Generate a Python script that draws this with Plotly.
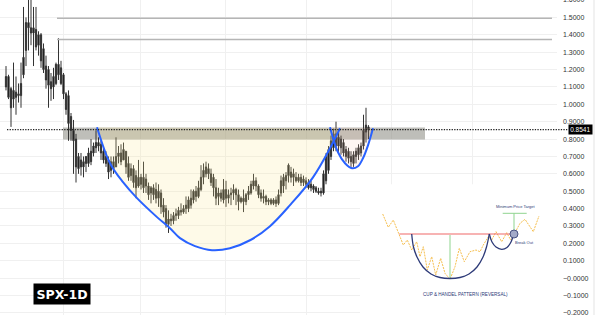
import plotly.graph_objects as go

# ---------------- data (price, SPX daily candles) ----------------
opens = [1.10, 1.16, 1.09, 1.03, 1.07, 1.05, 1.05, 1.17, 1.31, 1.47,
         1.44, 1.41, 1.43, 1.34, 1.40, 1.32, 1.22, 1.20, 1.13, 1.10,
         1.12, 1.23, 1.21, 1.17, 1.06, 1.05, 0.93, 0.85, 0.80, 0.63,
         0.68, 0.64, 0.66, 0.66, 0.67, 0.72, 0.75, 0.78, 0.77, 0.73,
         0.70, 0.68, 0.62, 0.67, 0.64, 0.70, 0.72, 0.68, 0.73, 0.66,
         0.59, 0.63, 0.59, 0.53, 0.58, 0.52, 0.57, 0.53, 0.49, 0.52,
         0.51, 0.46, 0.49, 0.42, 0.40, 0.31, 0.34, 0.33, 0.36, 0.36,
         0.39, 0.38, 0.40, 0.40, 0.42, 0.45, 0.50, 0.47, 0.51, 0.58,
         0.60, 0.63, 0.60, 0.58, 0.52, 0.47, 0.49, 0.45, 0.51, 0.46,
         0.48, 0.49, 0.51, 0.48, 0.44, 0.46, 0.44, 0.48, 0.49, 0.53,
         0.56, 0.53, 0.49, 0.46, 0.47, 0.44, 0.45, 0.43, 0.45, 0.43,
         0.49, 0.53, 0.56, 0.59, 0.61, 0.58, 0.58, 0.56, 0.58, 0.55,
         0.56, 0.55, 0.54, 0.53, 0.52, 0.50, 0.49, 0.49, 0.56, 0.62,
         0.70, 0.75, 0.83, 0.76, 0.80, 0.78, 0.74, 0.73, 0.70, 0.66,
         0.70, 0.71, 0.72, 0.76, 0.84, 0.87]
highs = [1.22, 1.17, 1.10, 1.24, 1.16, 1.12, 1.24, 1.56, 1.50, 1.62,
         1.62, 1.56, 1.56, 1.42, 1.41, 1.35, 1.28, 1.22, 1.18, 1.21,
         1.24, 1.38, 1.25, 1.18, 1.07, 1.08, 0.95, 0.91, 0.83, 0.72,
         0.72, 0.70, 0.70, 0.75, 0.80, 0.78, 0.85, 0.81, 0.79, 0.75,
         0.73, 0.70, 0.70, 0.70, 0.81, 0.76, 0.77, 0.78, 0.73, 0.70,
         0.66, 0.65, 0.62, 0.68, 0.60, 0.67, 0.60, 0.55, 0.53, 0.54,
         0.55, 0.54, 0.51, 0.46, 0.42, 0.39, 0.37, 0.38, 0.40, 0.41,
         0.43, 0.42, 0.47, 0.47, 0.51, 0.51, 0.53, 0.56, 0.65, 0.66,
         0.67, 0.66, 0.63, 0.60, 0.57, 0.52, 0.51, 0.57, 0.56, 0.51,
         0.52, 0.54, 0.52, 0.51, 0.47, 0.51, 0.49, 0.53, 0.56, 0.60,
         0.58, 0.54, 0.51, 0.51, 0.48, 0.46, 0.46, 0.46, 0.47, 0.51,
         0.59, 0.60, 0.61, 0.66, 0.64, 0.63, 0.61, 0.60, 0.60, 0.59,
         0.58, 0.57, 0.56, 0.54, 0.53, 0.52, 0.52, 0.62, 0.72, 0.76,
         0.82, 0.86, 0.90, 0.84, 0.82, 0.80, 0.76, 0.75, 0.73, 0.73,
         0.75, 0.77, 0.78, 0.94, 0.98, 0.88]
lows = [1.08, 1.03, 0.87, 0.98, 0.94, 1.01, 0.98, 1.15, 1.22, 1.31,
        1.34, 1.22, 1.31, 1.28, 1.21, 1.18, 1.09, 0.98, 1.02, 1.03,
        1.11, 1.14, 1.11, 1.03, 0.94, 0.79, 0.79, 0.60, 0.55, 0.60,
        0.59, 0.58, 0.61, 0.64, 0.65, 0.70, 0.72, 0.73, 0.68, 0.66,
        0.64, 0.57, 0.58, 0.60, 0.64, 0.66, 0.65, 0.68, 0.60, 0.56,
        0.56, 0.52, 0.46, 0.52, 0.51, 0.49, 0.49, 0.45, 0.43, 0.45,
        0.43, 0.41, 0.37, 0.35, 0.29, 0.26, 0.30, 0.31, 0.33, 0.34,
        0.36, 0.37, 0.37, 0.38, 0.40, 0.43, 0.44, 0.46, 0.50, 0.54,
        0.58, 0.57, 0.53, 0.47, 0.42, 0.42, 0.44, 0.43, 0.41, 0.43,
        0.42, 0.45, 0.42, 0.39, 0.43, 0.38, 0.42, 0.45, 0.48, 0.51,
        0.50, 0.46, 0.44, 0.43, 0.42, 0.42, 0.42, 0.42, 0.41, 0.42,
        0.47, 0.49, 0.51, 0.55, 0.55, 0.53, 0.55, 0.55, 0.53, 0.53,
        0.52, 0.51, 0.50, 0.49, 0.49, 0.48, 0.47, 0.48, 0.54, 0.60,
        0.68, 0.73, 0.73, 0.72, 0.71, 0.70, 0.67, 0.66, 0.64, 0.64,
        0.66, 0.68, 0.70, 0.74, 0.78, 0.80]
closes = [1.16, 1.04, 0.98, 1.08, 1.04, 1.06, 1.12, 1.27, 1.47, 1.44,
          1.41, 1.44, 1.33, 1.40, 1.25, 1.20, 1.14, 1.11, 1.09, 1.16,
          1.23, 1.17, 1.12, 1.06, 0.97, 0.89, 0.85, 0.79, 0.64, 0.70,
          0.64, 0.67, 0.70, 0.72, 0.73, 0.76, 0.78, 0.76, 0.72, 0.68,
          0.66, 0.61, 0.67, 0.63, 0.70, 0.72, 0.67, 0.74, 0.64, 0.58,
          0.63, 0.55, 0.52, 0.58, 0.54, 0.58, 0.53, 0.48, 0.52, 0.48,
          0.46, 0.50, 0.41, 0.38, 0.31, 0.34, 0.33, 0.36, 0.37, 0.39,
          0.38, 0.40, 0.42, 0.45, 0.46, 0.50, 0.47, 0.52, 0.58, 0.62,
          0.64, 0.60, 0.55, 0.52, 0.46, 0.49, 0.46, 0.51, 0.46, 0.48,
          0.49, 0.51, 0.48, 0.44, 0.46, 0.44, 0.48, 0.50, 0.54, 0.56,
          0.53, 0.48, 0.46, 0.47, 0.44, 0.45, 0.43, 0.45, 0.43, 0.48,
          0.56, 0.58, 0.59, 0.65, 0.58, 0.60, 0.56, 0.58, 0.55, 0.57,
          0.54, 0.52, 0.52, 0.51, 0.50, 0.49, 0.50, 0.60, 0.70, 0.74,
          0.79, 0.83, 0.76, 0.81, 0.75, 0.72, 0.70, 0.69, 0.67, 0.71,
          0.73, 0.75, 0.76, 0.85, 0.88, 0.8541]
days = list(range(len(closes)))

last_price = 0.8541
last_price_label = "0.8541"
resistance_levels = [1.495, 1.373]
resistance_span = [20.4, 218.4]
band_low, band_high = 0.797, 0.867
band_span = [22.8, 167.6]
month_lines = [22.8, 53.6, 87.6, 120.0, 154.0, 186.4]

cup_x = [36.4, 41.6, 46.8, 52.4, 60.4, 65.6, 69.6, 75.6, 82.4, 89.6,
         97.6, 105.6, 113.6, 122.8, 129.6, 133.6]
cup_y = [0.868, 0.661, 0.552, 0.460, 0.351, 0.287, 0.230, 0.184, 0.161, 0.172,
         0.218, 0.299, 0.420, 0.580, 0.747, 0.862]
handle_x = [129.6, 132.8, 135.6, 138.4, 140.8, 142.8, 144.8, 146.8]
handle_y = [0.868, 0.724, 0.661, 0.632, 0.644, 0.690, 0.764, 0.862]

tick_values = [-0.2, -0.1, 0.0, 0.1, 0.2, 0.3, 0.4, 0.5, 0.6, 0.7,
               0.8, 0.9, 1.0, 1.1, 1.2, 1.3, 1.4, 1.5, 1.6]
tick_labels = ["\u22120.2000", "\u22120.1000", "\u22120.0000", "0.1000", "0.2000",
               "0.3000", "0.4000", "0.5000", "0.6000", "0.7000", "0.8000",
               "0.9000", "1.0000", "1.1000", "1.2000", "1.3000", "1.4000",
               "1.5000", "1.6000"]
chart_label = "SPX-1D"

# ---------------- inset illustration (local units) ----------------
zig_x = [22.7, 28.3, 33.3, 43.3, 47.3, 51.7, 56.7, 60, 63.3, 67.3, 71.7, 75.7,
         80.7, 85, 90, 95, 99.3, 104.3, 110, 116, 120, 123.3, 128.3, 131.7,
         136, 141.7, 146.7, 150.7, 155, 160, 165, 173.3, 179]
zig_y = [29, 42.3, 35, 60, 55, 65, 56.7, 71.7, 61.7, 85, 71.7, 90,
         73.3, 88.3, 94.3, 81.7, 63.3, 76.7, 66.7, 65, 66.7, 60, 51.7, 55,
         46.7, 56.7, 47.7, 55, 47.7, 38.3, 34.3, 46.7, 31]
neck_x = [39.3, 153.3]
neck_y = [49, 49]
icup_x = [51.7, 53.5, 57, 63, 71, 80, 90, 100, 109, 117, 123, 126.5, 129.3]
icup_y = [49, 62, 72, 82, 89, 92.5, 93.5, 92.5, 89, 82, 72, 62, 49]
ihandle_x = [129.3, 132, 136, 141.7, 147, 151, 153.3]
ihandle_y = [49, 57, 62, 64.3, 62.5, 57, 50]
depth_x = [90, 90]
depth_y = [50, 93.3]
target_x = [154, 154, None, 142.7, 166.7]
target_y = [48.3, 28.3, None, 28.3, 28.3]
breakout_xy = (154, 49)

BLUE = "#2962ff"
NAVY = "#2d3a78"

fig = go.Figure()

# cup & handle fills
fig.add_trace(go.Scatter(x=cup_x, y=cup_y, mode="lines", fill="toself",
                         fillcolor="rgba(250,232,140,0.20)",
                         line=dict(width=0, shape="spline"), hoverinfo="skip"))
fig.add_trace(go.Scatter(x=handle_x, y=handle_y, mode="lines", fill="toself",
                         fillcolor="rgba(245,190,160,0.14)",
                         line=dict(width=0, shape="spline"), hoverinfo="skip"))

fig.add_trace(go.Candlestick(
    x=days, open=opens, high=highs, low=lows, close=closes,
    increasing=dict(line=dict(color="#333333", width=1), fillcolor="#0a0a0a"),
    decreasing=dict(line=dict(color="#333333", width=1), fillcolor="#0a0a0a"),
    whiskerwidth=0, hoverinfo="skip"))

fig.add_trace(go.Scatter(x=cup_x, y=cup_y, mode="lines",
                         line=dict(color=BLUE, width=2, shape="spline"), hoverinfo="skip"))
fig.add_trace(go.Scatter(x=handle_x, y=handle_y, mode="lines",
                         line=dict(color=BLUE, width=2, shape="spline"), hoverinfo="skip"))

# inset traces
fig.add_trace(go.Scatter(x=zig_x, y=zig_y, xaxis="x2", yaxis="y2", mode="lines",
                         line=dict(color="#f6bf4f", width=1, dash="2px,1px"), hoverinfo="skip"))
fig.add_trace(go.Scatter(x=neck_x, y=neck_y, xaxis="x2", yaxis="y2", mode="lines",
                         line=dict(color="#f06868", width=1.2), hoverinfo="skip"))
fig.add_trace(go.Scatter(x=depth_x, y=depth_y, xaxis="x2", yaxis="y2", mode="lines",
                         line=dict(color="#8fd48f", width=1), hoverinfo="skip"))
fig.add_trace(go.Scatter(x=target_x, y=target_y, xaxis="x2", yaxis="y2", mode="lines",
                         line=dict(color="#8fd48f", width=1), hoverinfo="skip"))
fig.add_trace(go.Scatter(x=icup_x, y=icup_y, xaxis="x2", yaxis="y2", mode="lines",
                         line=dict(color=NAVY, width=1.3, shape="spline"), hoverinfo="skip"))
fig.add_trace(go.Scatter(x=ihandle_x, y=ihandle_y, xaxis="x2", yaxis="y2", mode="lines",
                         line=dict(color=NAVY, width=1.3, shape="spline"), hoverinfo="skip"))
fig.add_trace(go.Scatter(x=[breakout_xy[0]], y=[breakout_xy[1]], xaxis="x2", yaxis="y2",
                         mode="markers",
                         marker=dict(size=8, color="#a3aac8", line=dict(color="#4a5483", width=1)),
                         hoverinfo="skip"))

shapes = []
# white background behind inset (hides grid)
shapes.append(dict(type="rect", xref="x", yref="y", x0=141.6, x1=222, y0=0.54, y1=-0.3,
                   fillcolor="white", line=dict(width=0), layer="between"))
# gray band
shapes.append(dict(type="rect", xref="x", yref="y", x0=band_span[0], x1=band_span[1],
                   y0=band_low, y1=band_high, fillcolor="rgba(125,125,115,0.5)",
                   line=dict(width=0), layer="between"))
for lvl in resistance_levels:
    shapes.append(dict(type="line", xref="x", yref="y", x0=resistance_span[0],
                       x1=resistance_span[1], y0=lvl, y1=lvl,
                       line=dict(color="#b5b5b5", width=1.5), layer="above"))
# last price dotted line
shapes.append(dict(type="line", xref="paper", yref="y", x0=7 / 557, x1=568 / 557,
                   y0=last_price, y1=last_price,
                   line=dict(color="#222222", width=1.2, dash="1.3px,1.3px"), layer="above"))
# right axis border
shapes.append(dict(type="line", xref="paper", yref="paper", x0=594 / 557, x1=594 / 557,
                   y0=0, y1=1, line=dict(color="#e3e3e3", width=1)))

annotations = [
    dict(text=chart_label, xref="paper", yref="paper", x=62 / 557, y=21 / 315,
         xanchor="center", yanchor="middle", showarrow=False,
         font=dict(family="DejaVu Sans", size=12.5, color="white", weight="bold"),
         bgcolor="black", borderpad=2.5),
    dict(text=last_price_label, xref="paper", yref="y", x=568 / 557, y=last_price,
         xanchor="left", yanchor="middle", showarrow=False,
         font=dict(family="Liberation Sans", size=6.5, color="white"),
         bgcolor="black", borderpad=1.2),
    dict(text="Minimum Price Target", xref="x2", yref="y2", x=155, y=21.7,
         showarrow=False, font=dict(family="Liberation Sans", size=4, color=NAVY)),
    dict(text="Break Out", xref="x2", yref="y2", x=164, y=57.3,
         showarrow=False, font=dict(family="Liberation Sans", size=4, color=NAVY)),
    dict(text="CUP &amp; HANDEL PATTERN (REVERSAL)", xref="x2", yref="y2", x=105, y=109,
         showarrow=False, font=dict(family="Liberation Sans", size=4.6, color=NAVY)),
]

fig.update_layout(
    width=600, height=315,
    margin=dict(l=0, r=43, t=0, b=0, autoexpand=False),
    paper_bgcolor="white", plot_bgcolor="white",
    showlegend=False,
    shapes=shapes, annotations=annotations,
    xaxis=dict(range=[-2.4, 220.4], tickvals=month_lines, showticklabels=False,
               showgrid=True, gridcolor="#f0f0f0", gridwidth=1, zeroline=False,
               showline=False, ticks="", automargin=False,
               rangeslider=dict(visible=False)),
    yaxis=dict(range=[-0.212, 1.6], side="right", tickvals=tick_values,
               ticktext=tick_labels, showgrid=True, gridcolor="#f0f0f0",
               gridwidth=1, zeroline=False, showline=False, ticks="",
               ticklabelstandoff=5, ticklabeloverflow="allow", automargin=False,
               tickfont=dict(family="Liberation Sans", size=7, color="#333333")),
    xaxis2=dict(domain=[360 / 557, 555 / 557], range=[0, 195], visible=False,
                anchor="y2", fixedrange=True),
    yaxis2=dict(domain=[0, 130 / 315], range=[130, 0], visible=False,
                anchor="x2", fixedrange=True),
)

fig.write_html("out.html")
